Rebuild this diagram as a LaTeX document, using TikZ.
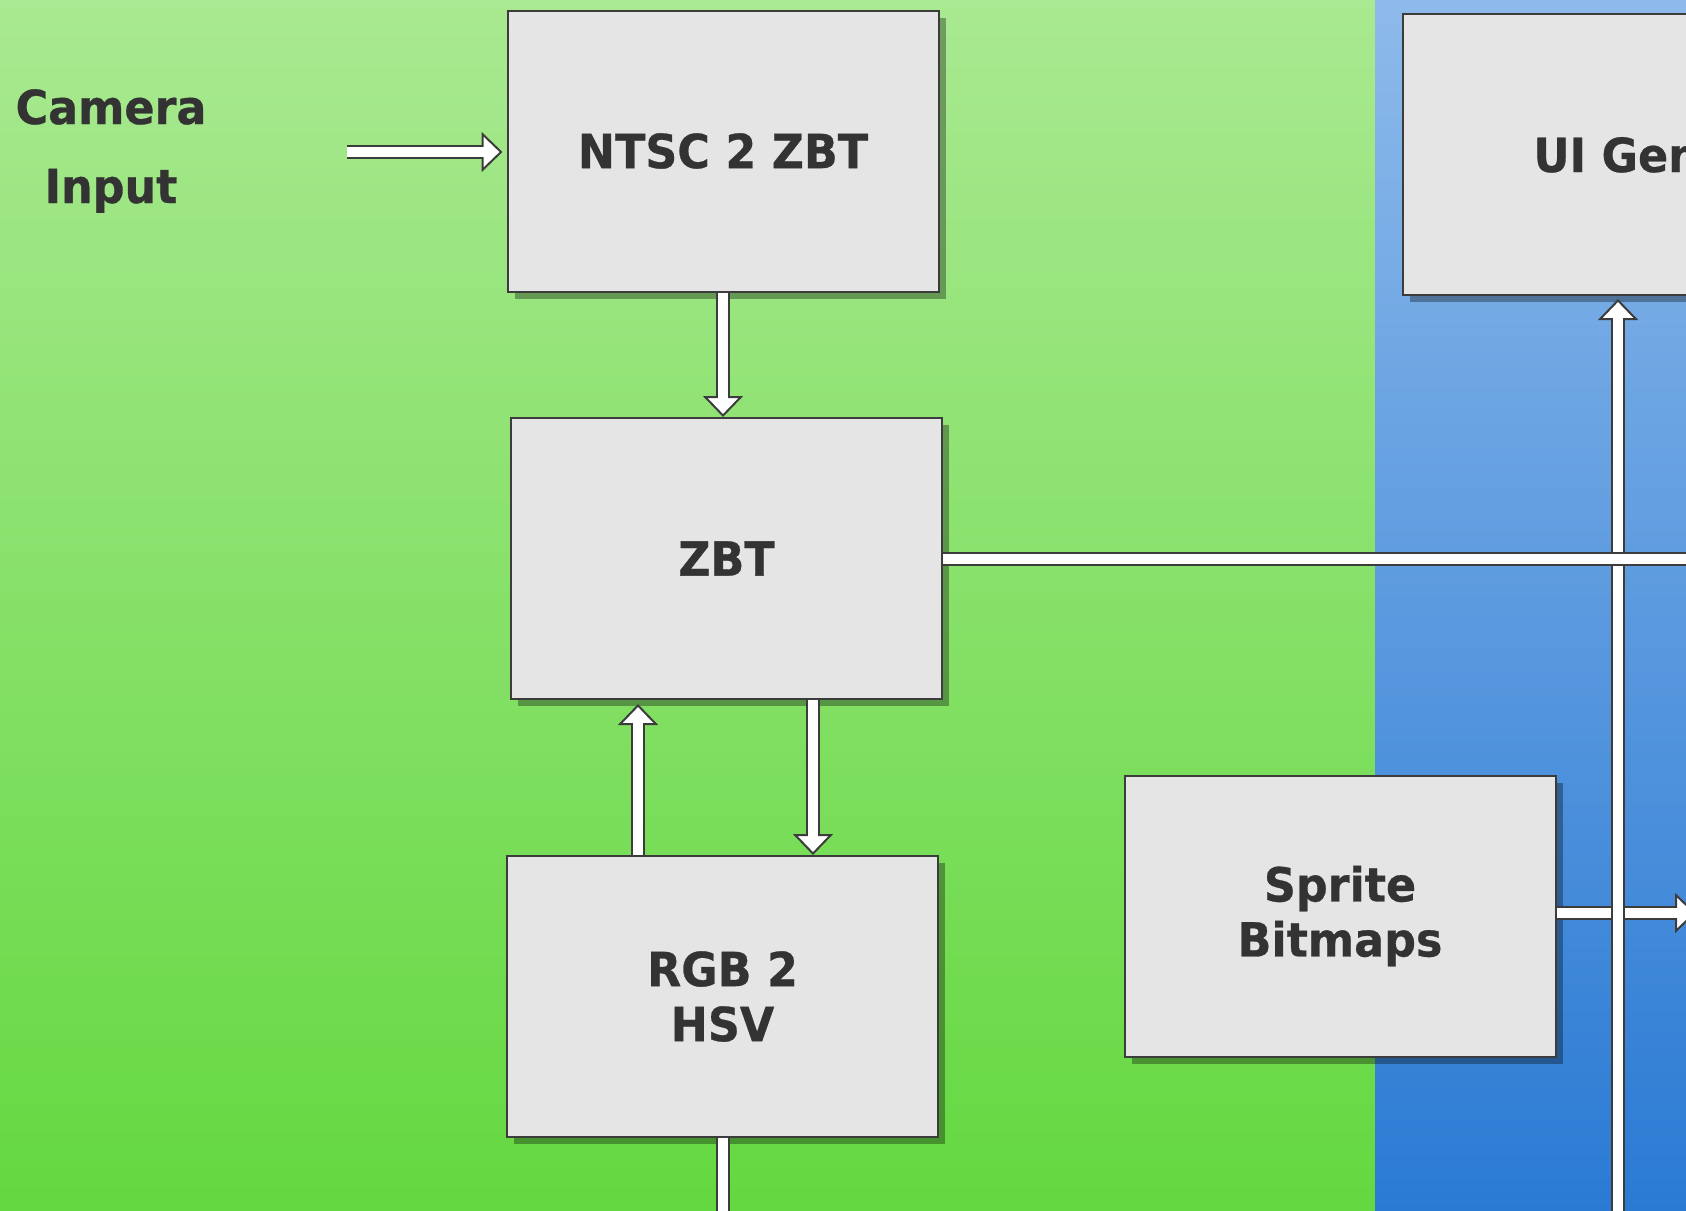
\documentclass[tikz,border=0pt]{standalone}
\usepackage{fontspec}
\newfontfamily\lblfont{DejaVu Sans}[FakeStretch=0.945,FakeBold=0.6]
\usetikzlibrary{arrows.meta,shadows}

\definecolor{greentop}{HTML}{A9E991}
\definecolor{greenbot}{HTML}{64D840}
\definecolor{bluetop}{HTML}{8DBAEA}
\definecolor{bluebot}{HTML}{2A7AD4}
\definecolor{boxfill}{HTML}{E5E5E5}
\definecolor{edge}{HTML}{3C3C3C}
\definecolor{ink}{HTML}{333333}

\tikzset{
  block/.style={draw=edge, line width=2pt, fill=boxfill,
    minimum width=431pt, minimum height=281pt, inner sep=0pt,
    align=center, text=ink,
    font=\lblfont\bfseries\fontsize{47}{55}\selectfont,
    drop shadow={shadow xshift=7pt, shadow yshift=-7pt, fill=black, opacity=0.33}},
  label text/.style={text=ink, align=center,
    font=\lblfont\bfseries\fontsize{47}{79}\selectfont},
  pipeedge/.style={draw=edge, line width=14pt},
  pipecore/.style={draw=white, line width=10pt},
  pipetip/.style={-{Triangle[width=40pt,length=21pt,line width=2pt,fill=white]}},
}

% hollow block connector: dark outline pass, then white core
\newcommand\pipe[2]{%
  \draw[pipeedge] #1 -- #2;
  \draw[pipecore] #1 -- #2;}
\newcommand\pipearrow[2]{%
  \draw[pipeedge,pipetip] #1 -- #2;
  \draw[pipecore,shorten >=14pt] #1 -- #2;}

\begin{document}
\begin{tikzpicture}[x=1pt,y=-1pt]
  \useasboundingbox (0,0) rectangle (1686,1210);
  \clip (0,0) rectangle (1686,1210);

  % two background bands
  \shade[top color=greentop, bottom color=greenbot] (0,0) rectangle (1375,1210);
  \shade[top color=bluetop, bottom color=bluebot] (1375,0) rectangle (1686,1210);

  % blocks
  \node[block] (ntsc)   at (723,151)    {NTSC 2 ZBT};
  \node[block] (zbt)    at (726.5,558.5) {ZBT};
  \node[block] (rgb)    at (722.5,996.5) {RGB 2\\HSV};
  \node[block] (sprite) at (1340,916)   {Sprite\\Bitmaps};
  \node[block] (ui)     at (1618,154.5) {};
  \node[text=ink, anchor=base west,
        font=\lblfont\bfseries\fontsize{47}{55}\selectfont] (uitext) at (1530,172) {UI Generator};

  \node[label text] (cam) at (111,151) {Camera\\Input};

  % free ends of the connectors
  \coordinate (camout)    at (347,152);
  \coordinate (offright)  at (1720,558.5);
  \coordinate (spriteout) at (1696,913);
  \coordinate (uifeed)    at (1618,1240);
  \coordinate (offbottom) at (723,1240);

  % connectors
  \pipearrow{(camout)}{([xshift=-4pt]ntsc.west |- camout)}
  \pipearrow{(ntsc.south)}{(ntsc.south |- zbt.north)}
  \pipearrow{([xshift=-84.5pt]rgb.north)}{([xshift=-84.5pt,yshift=-4pt]rgb.north |- zbt.south)}
  \pipearrow{([xshift=86.5pt]zbt.south)}{([xshift=86.5pt]zbt.south |- rgb.north)}
  \pipe{(rgb.south)}{(rgb.south |- offbottom)}
  \pipearrow{([yshift=3pt]sprite.east)}{(spriteout)}
  \pipearrow{(uifeed)}{([yshift=-3pt]ui.south -| uifeed)}
  \pipe{(zbt.east)}{(offright)}
\end{tikzpicture}
\end{document}
